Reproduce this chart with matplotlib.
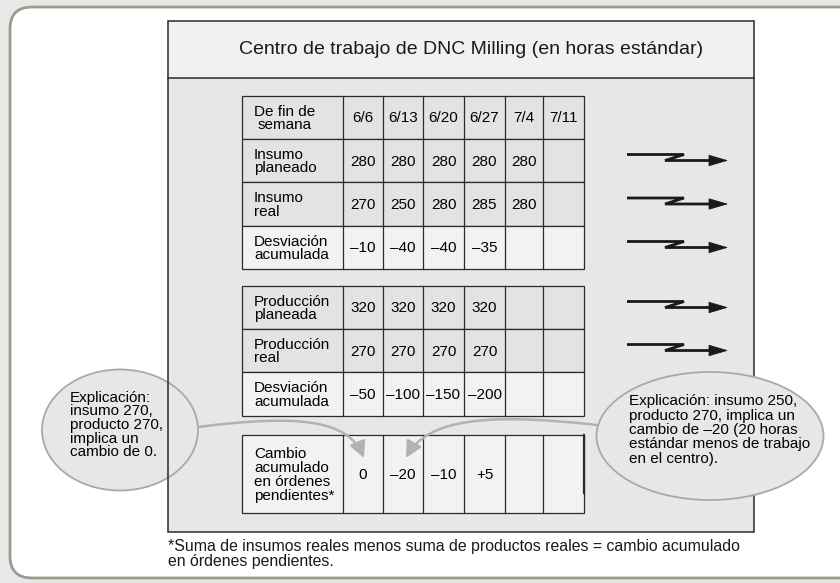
import matplotlib.pyplot as plt
from matplotlib.patches import Rectangle, Ellipse, FancyBboxPatch, FancyArrowPatch
from matplotlib.path import Path

plt.rcParams['font.family'] = ['Liberation Sans', 'DejaVu Sans']

# datos de la tabla
semanas = ["6/6", "6/13", "6/20", "6/27", "7/4", "7/11"]
insumo_planeado = [280, 280, 280, 280, 280, None]
insumo_real = [270, 250, 280, 285, 280, None]
desv_insumo = [-10, -40, -40, -35, None, None]
prod_planeada = [320, 320, 320, 320, None, None]
prod_real = [270, 270, 270, 270, None, None]
desv_prod = [-50, -100, -150, -200, None, None]
cambio_ordenes = [0, -20, -10, 5, None, None]

titulo = "Centro de trabajo de DNC Milling (en horas estándar)"
nota = ("*Suma de insumos reales menos suma de productos reales = cambio acumulado\n"
        "en órdenes pendientes.")
globo_izq = "Explicación:\ninsumo 270,\nproducto 270,\nimplica un\ncambio de 0."
globo_der = ("Explicación: insumo 250,\nproducto 270, implica un\ncambio de –20 (20 horas\n"
             "estándar menos de trabajo\nen el centro).")

GRIS = "#e2e3e5"
CLARO = "#f1f2f3"
LINEA = "#2b2b2b"
FS = 11


def fmt(v, signo=False):
    if v is None:
        return ""
    if v < 0:
        return "–" + str(-v)
    if signo and v > 0:
        return "+" + str(v)
    return str(v)


fig = plt.figure(figsize=(8.4, 5.83), dpi=100, facecolor="#e8e8e8")
ax = fig.add_axes([0, 0, 1, 1])
ax.set_xlim(0, 840)
ax.set_ylim(583, 0)
ax.axis("off")

# marco exterior redondeado
ax.add_patch(FancyBboxPatch((10, 7), 880, 571, boxstyle="round,pad=0,rounding_size=22",
                            facecolor="white", edgecolor="#9c9c8c", lw=2))

# panel principal
px0, px1, py0, pyt, py1 = 168, 754, 21, 78, 532
ax.add_patch(Rectangle((px0, py0), px1 - px0, pyt - py0, facecolor="#f0f1f2", edgecolor="none"))
ax.add_patch(Rectangle((px0, pyt), px1 - px0, py1 - pyt, facecolor="#e6e7e9", edgecolor="none"))
ax.add_patch(Rectangle((px0, py0), px1 - px0, py1 - py0, facecolor="none", edgecolor=LINEA,
                       lw=1.1, zorder=6))
ax.plot([px0, px1], [pyt, pyt], color=LINEA, lw=1.1, zorder=6)
ax.text(471, 50, titulo, ha="center", va="center", fontsize=14, color="#1a1a1a")

cols = [242, 343, 383, 423, 464, 505, 543, 584]


def fila(y0, y1, etiqueta, valores, color, centrada=False, signo=False):
    ax.add_patch(Rectangle((cols[0], y0), cols[-1] - cols[0], y1 - y0, facecolor=color,
                           edgecolor=LINEA, lw=0.9, zorder=2))
    for x in cols[1:-1]:
        ax.plot([x, x], [y0, y1], color=LINEA, lw=0.9, zorder=3)
    ax.text(cols[0] + 12, (y0 + y1) / 2 + 1, etiqueta, ha="left", va="center",
            fontsize=FS, linespacing=0.98, multialignment="center" if centrada else "left",
            zorder=4)
    for i, v in enumerate(valores):
        t = v if isinstance(v, str) else fmt(v, signo)
        ax.text((cols[i + 1] + cols[i + 2]) / 2, (y0 + y1) / 2 + 1, t, ha="center",
                va="center", fontsize=FS, zorder=4)


def flecha(yc):
    ax.plot([627, 684, 665, 720], [yc - 6, yc - 6, yc, yc], color="#1a1a1a", lw=2,
            solid_joinstyle="miter", solid_capstyle="butt")
    ax.add_patch(FancyArrowPatch((716, yc), (731, yc), arrowstyle="-|>,head_length=0.75,head_width=0.22",
                                 mutation_scale=17, color="#1a1a1a", lw=0.6))


filas1 = [96, 139, 182, 226, 269]
fila(filas1[0], filas1[1], "De fin de\nsemana", semanas, GRIS, centrada=True)
fila(filas1[1], filas1[2], "Insumo\nplaneado", insumo_planeado, GRIS)
fila(filas1[2], filas1[3], "Insumo\nreal", insumo_real, GRIS)
fila(filas1[3], filas1[4], "Desviación\nacumulada", desv_insumo, CLARO)

filas2 = [286, 329, 372, 416]
fila(filas2[0], filas2[1], "Producción\nplaneada", prod_planeada, GRIS)
fila(filas2[1], filas2[2], "Producción\nreal", prod_real, GRIS)
fila(filas2[2], filas2[3], "Desviación\nacumulada", desv_prod, CLARO)

fila(435, 513, "Cambio\nacumulado\nen órdenes\npendientes*", cambio_ordenes, CLARO, signo=True)
# borde derecho mas grueso en la ultima tabla
ax.plot([cols[-1], cols[-1]], [435, 493], color=LINEA, lw=1.6, zorder=3)

for y0, y1 in zip(filas1[1:], filas1[2:]):
    flecha((y0 + y1) / 2)
for y0, y1 in zip(filas2[:2], filas2[1:3]):
    flecha((y0 + y1) / 2)

# globos de explicacion
ax.add_patch(Ellipse((120, 430), 156, 121, facecolor="#e6e7e8", edgecolor="#a9a9a9", lw=1.3, zorder=5))
ax.text(70, 425, globo_izq, ha="left", va="center", fontsize=FS, linespacing=0.96, zorder=7)
ax.add_patch(Ellipse((710, 436), 227, 128, facecolor="#e6e7e8", edgecolor="#a9a9a9", lw=1.3, zorder=7))
ax.text(629, 430, globo_der, ha="left", va="center", fontsize=FS, linespacing=1.03, zorder=8)

gris_flecha = "#b0b2b4"
p_izq = Path([(198, 427), (300, 414), (348, 420), (364, 458)],
             [Path.MOVETO, Path.CURVE4, Path.CURVE4, Path.CURVE4])
ax.add_patch(FancyArrowPatch(path=p_izq, arrowstyle="-|>,head_length=0.7,head_width=0.35",
                             mutation_scale=14, color=gris_flecha, lw=1.8, zorder=5))
p_der = Path([(597, 425), (490, 413), (428, 418), (406, 458)],
             [Path.MOVETO, Path.CURVE4, Path.CURVE4, Path.CURVE4])
ax.add_patch(FancyArrowPatch(path=p_der, arrowstyle="-|>,head_length=0.7,head_width=0.35",
                             mutation_scale=14, color=gris_flecha, lw=1.8, zorder=5))

ax.text(168, 554, nota, ha="left", va="center", fontsize=11.4, linespacing=0.97, color="#1a1a1a")

fig.savefig("out.png", dpi=100, facecolor=fig.get_facecolor())
